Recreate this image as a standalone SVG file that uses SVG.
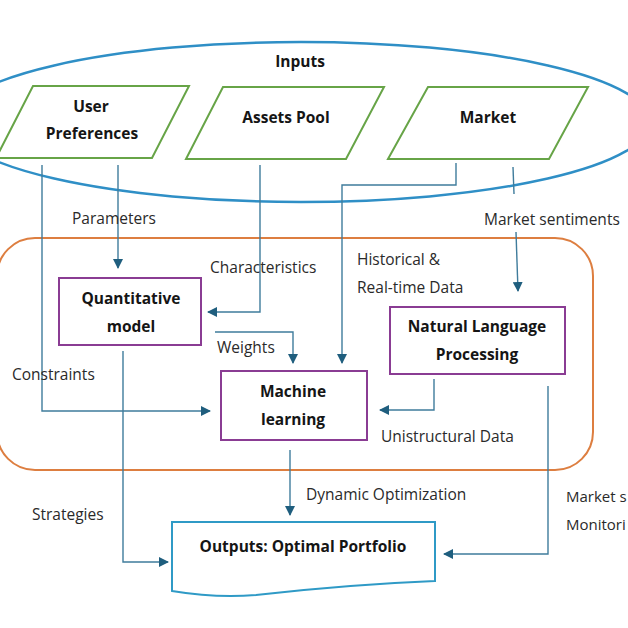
<svg xmlns="http://www.w3.org/2000/svg" width="628" height="628" viewBox="0 0 628 628">
<defs>
<style>
.bg{fill:#ffffff}
.ell{fill:none;stroke:#2F8FC6;stroke-width:2.5}
.para{fill:#ffffff;stroke:#67A447;stroke-width:2}
.group{fill:none;stroke:#DD7E40;stroke-width:2}
.proc{fill:#ffffff;stroke:#8A3C93;stroke-width:2}
.out{fill:#ffffff;stroke:#2F9AC6;stroke-width:2}
.node{font-family:"Open Sans","Liberation Sans",sans-serif;font-weight:700;font-size:15.5px;fill:#151515;text-anchor:middle}
.lbl{font-family:"Open Sans","Liberation Sans",sans-serif;font-size:15.5px;fill:#2a2a2a}
.edge{font-size:15px}
.con{fill:none;stroke:#3F7C9C;stroke-width:1.4}
</style>
<marker id="arr" viewBox="0 0 10 10" refX="9" refY="5" markerWidth="10" markerHeight="10" markerUnits="userSpaceOnUse" orient="auto">
<path d="M0,0 L10,5 L0,10 z" fill="#1F5E7E"/>
</marker>
</defs>
<rect class="bg" x="0" y="0" width="628" height="628"/>

<g id="inputs">
<ellipse class="ell" cx="301" cy="122" rx="349" ry="80"/>
<text class="node" x="300" y="67">Inputs</text>
</g>

<g id="user-preferences">
<polygon class="para" points="33,86 189,86 152,158 -4,158"/>
<text class="node" x="91" y="112">User</text>
<text class="node" x="92" y="139">Preferences</text>
</g>

<g id="assets-pool">
<polygon class="para" points="223,87 384,87 346,159 186,159"/>
<text class="node" x="286" y="123">Assets Pool</text>
</g>

<g id="market">
<polygon class="para" points="428,87 588,87 549,159 388,159"/>
<text class="node" x="488" y="123">Market</text>
</g>

<g id="processing-group">
<rect class="group" x="-3" y="238" width="596" height="232" rx="38" ry="38"/>
</g>

<g id="quantitative-model">
<rect class="proc" x="59" y="278" width="142" height="67"/>
<text class="node" x="131" y="304">Quantitative</text>
<text class="node" x="131" y="332">model</text>
</g>

<g id="machine-learning">
<rect class="proc" x="221" y="371" width="146" height="69"/>
<text class="node" x="293" y="397">Machine</text>
<text class="node" x="293" y="425">learning</text>
</g>

<g id="nlp">
<rect class="proc" x="390" y="307" width="175" height="67"/>
<text class="node" x="477" y="332">Natural Language</text>
<text class="node" x="477" y="360">Processing</text>
</g>

<g id="outputs">
<path class="out" d="M172,522 L435,522 L435,581 C360,584 300,590 256,595 C220,598 190,594 172,591 Z"/>
<text class="node" x="303" y="552">Outputs: Optimal Portfolio</text>
</g>

<g id="connectors">
<path class="con" d="M42,165 L42,411 L210,411" marker-end="url(#arr)"/>
<path class="con" d="M118,165 L118,268" marker-end="url(#arr)"/>
<path class="con" d="M260,165 L260,312 L208,312" marker-end="url(#arr)"/>
<path class="con" d="M456,163 L456,185 L342,185 L342,363" marker-end="url(#arr)"/>
<path class="con" d="M513,167 L514,194"/>
<path class="con" d="M516,232 L518,291" marker-end="url(#arr)"/>
<path class="con" d="M215,332 L293,332 L293,363" marker-end="url(#arr)"/>
<path class="con" d="M434,379 L434,410 L380,410" marker-end="url(#arr)"/>
<path class="con" d="M123,351 L123,562 L168,562" marker-end="url(#arr)"/>
<path class="con" d="M290,450 L290,515" marker-end="url(#arr)"/>
<path class="con" d="M548,386 L548,554 L444,554" marker-end="url(#arr)"/>
</g>

<g id="labels">
<text class="lbl" x="72" y="224">Parameters</text>
<text class="lbl" x="484" y="225">Market sentiments</text>
<text class="lbl" x="210" y="273">Characteristics</text>
<text class="lbl" x="357" y="265">Historical &amp;</text>
<text class="lbl" x="357" y="293">Real-time Data</text>
<text class="lbl" x="217" y="353">Weights</text>
<text class="lbl" x="12" y="380">Constraints</text>
<text class="lbl" x="381" y="442">Unistructural Data</text>
<text class="lbl" x="306" y="500">Dynamic Optimization</text>
<text class="lbl" x="32" y="520">Strategies</text>
<text class="lbl edge" x="566" y="502">Market s</text>
<text class="lbl edge" x="566" y="530">Monitori</text>
</g>
</svg>
